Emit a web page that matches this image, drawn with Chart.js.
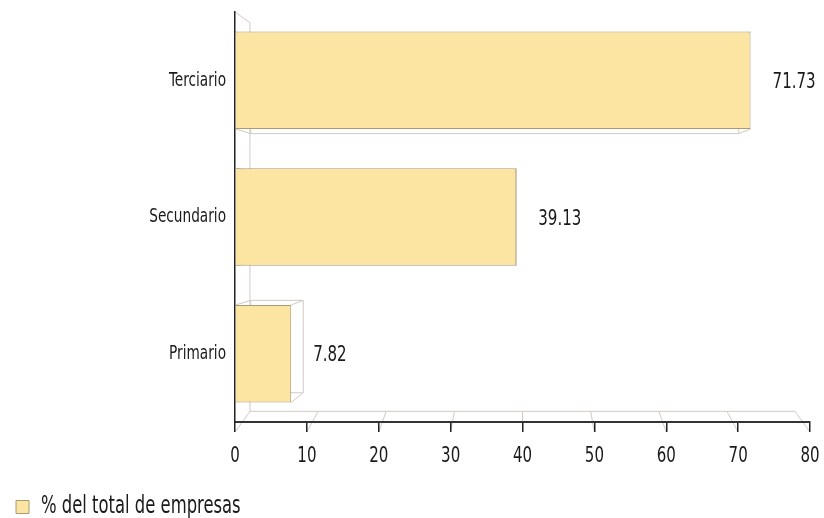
<!DOCTYPE html>
<html>
<head>
<meta charset="utf-8">
<script src="https://cdn.jsdelivr.net/npm/chart.js@4.4.0/dist/chart.umd.min.js"></script>
<style>
  html, body { margin: 0; padding: 0; background: #fff; }
  #wrap { width: 824px; height: 518px; }
</style>
</head>
<body>
<div id="wrap"><canvas id="chart" width="824" height="518"></canvas></div>
<script>
const categories = ["Terciario", "Secundario", "Primario"];
const values = [71.73, 39.13, 7.82];
const seriesLabel = "% del total de empresas";
const xMin = 0;
const xMax = 80;
const xStep = 10;

const FONT = "'DejaVu Sans Condensed', 'Liberation Sans Narrow', sans-serif";
const TEXT = "#1a1a1a";
const BAR_FILL = "#fce4a2";
const BAR_EDGE = "#ab9a72";
const DEPTH_LINE = "#cfcac4";
const DEPTH = 0.948; // 奥の面の縮小率
const SQUEEZE = 0.76; // 細身の書体に見せるための横方向の縮小

// 奥行き方向への投影（消失点はプロット領域の中心）
function project(area, x, y) {
  const vx = (area.left + area.right) / 2;
  const vy = (area.top + area.bottom) / 2;
  return [vx + (x - vx) * DEPTH, vy + (y - vy) * DEPTH];
}

function line(ctx, a, b) {
  ctx.beginPath();
  ctx.moveTo(a[0], a[1]);
  ctx.lineTo(b[0], b[1]);
  ctx.stroke();
}

// 3D風の壁・床・棒の奥面
const depthPlugin = {
  id: "depth",
  beforeDraw(chart) {
    const { ctx, chartArea: area } = chart;
    const xScale = chart.scales.x;
    ctx.save();
    ctx.strokeStyle = DEPTH_LINE;
    ctx.lineWidth = 1;

    const backTop = project(area, area.left, area.top);
    const backBottom = project(area, area.left, area.bottom);
    const backRight = project(area, area.right, area.bottom);
    line(ctx, [area.left, area.top], backTop);
    line(ctx, backTop, backBottom);
    line(ctx, backBottom, backRight);

    xScale.ticks.forEach((t) => {
      const px = xScale.getPixelForValue(t.value);
      line(ctx, [px, area.bottom + 10], project(area, px, area.bottom));
    });

    chart.getDatasetMeta(0).data.forEach((bar) => {
      const { x, y, base, height } = bar.getProps(["x", "y", "base", "height"], true);
      const front = [
        [base, y - height / 2],
        [x, y - height / 2],
        [x, y + height / 2],
        [base, y + height / 2],
      ];
      const back = front.map((p) => project(area, p[0], p[1]));
      for (let i = 0; i < 4; i++) {
        line(ctx, back[i], back[(i + 1) % 4]);
        line(ctx, front[i], back[i]);
      }
    });
    ctx.restore();
  },
  afterDatasetsDraw(chart) {
    const { ctx } = chart;
    ctx.save();
    ctx.fillStyle = TEXT;
    ctx.font = "22px " + FONT;
    ctx.textAlign = "left";
    ctx.textBaseline = "middle";
    chart.getDatasetMeta(0).data.forEach((bar, i) => {
      ctx.fillText(values[i].toFixed(2), bar.x + 22, bar.y + 2);
    });
    ctx.restore();
  },
};

const ctx = document.getElementById("chart").getContext("2d");

// 文字を横に縮めて描く（揃えの基準点はそのまま）
const rawFillText = CanvasRenderingContext2D.prototype.fillText;
ctx.fillText = function (text, x, y, maxWidth) {
  this.save();
  this.translate(x, y);
  this.scale(SQUEEZE, 1);
  if (maxWidth === undefined) {
    rawFillText.call(this, text, 0, 0);
  } else {
    rawFillText.call(this, text, 0, 0, maxWidth / SQUEEZE);
  }
  this.restore();
};

const chart = new Chart(ctx, {
  type: "bar",
  data: {
    labels: categories,
    datasets: [
      {
        label: seriesLabel,
        data: values,
        backgroundColor: BAR_FILL,
        borderColor: BAR_EDGE,
        borderWidth: 1,
        barPercentage: 0.713,
        categoryPercentage: 1,
      },
    ],
  },
  options: {
    indexAxis: "y",
    responsive: false,
    animation: false,
    layout: {
      padding: { top: 12, right: 14, left: 0, bottom: 0 },
    },
    scales: {
      x: {
        min: xMin,
        max: xMax,
        afterFit: (scale) => {
          scale.height = 57;
          scale.paddingLeft = 0;
          scale.paddingRight = 0;
        },
        ticks: {
          stepSize: xStep,
          color: TEXT,
          padding: 11,
          font: { family: FONT, size: 22 },
        },
        grid: {
          drawOnChartArea: false,
          drawTicks: true,
          tickLength: 10,
          color: "#222",
          lineWidth: 1.5,
        },
        border: { display: true, color: "#333", width: 2 },
      },
      y: {
        afterFit: (scale) => {
          scale.width = 235;
          scale.paddingTop = 0;
          scale.paddingBottom = 0;
        },
        ticks: {
          color: TEXT,
          padding: 9,
          font: { family: FONT, size: 20 },
        },
        grid: {
          drawOnChartArea: false,
          drawTicks: false,
        },
        border: { display: true, color: "#222", width: 1.5 },
      },
    },
    plugins: {
      legend: {
        position: "bottom",
        align: "start",
        maxHeight: 39,
        labels: {
          color: TEXT,
          boxWidth: 13,
          boxHeight: 13,
          padding: 16,
          font: { family: FONT, size: 24 },
        },
        onClick: function (event, legendItem) {},
      },
      tooltip: { enabled: false },
    },
  },
  plugins: [depthPlugin],
});
</script>
</body>
</html>
